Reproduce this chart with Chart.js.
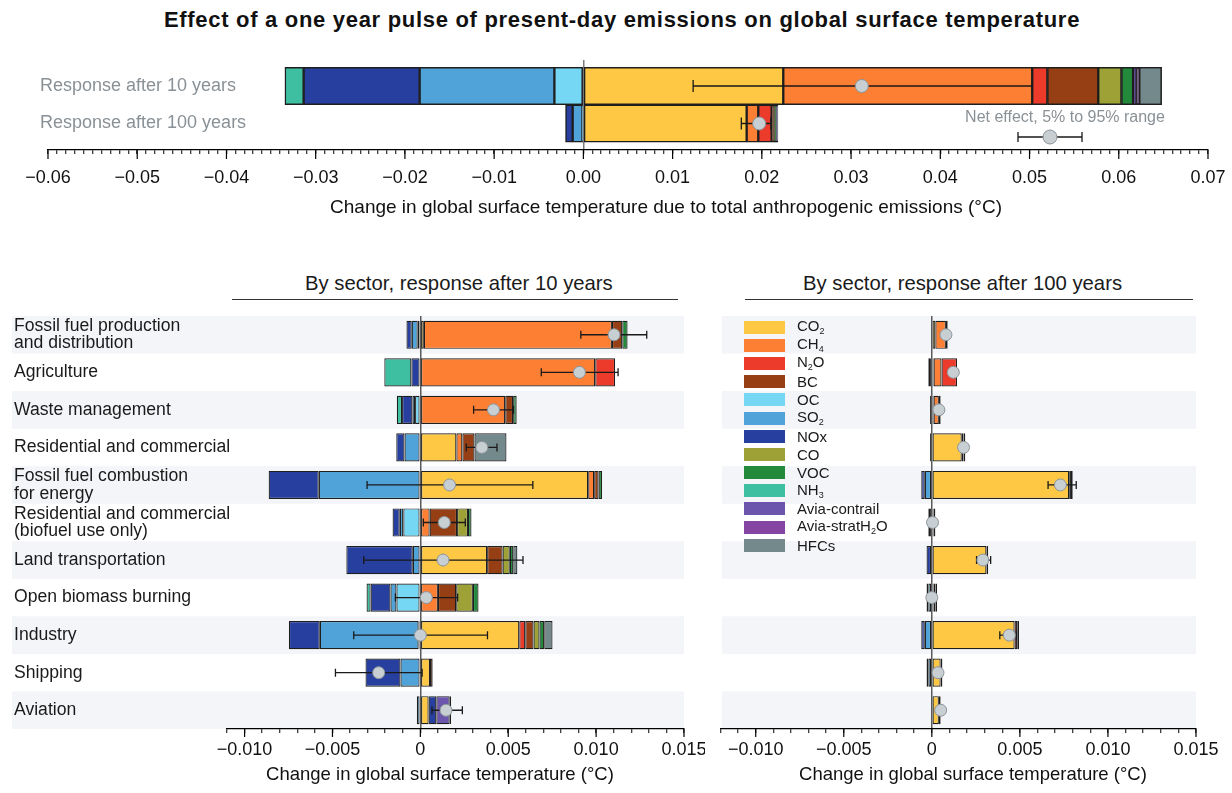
<!DOCTYPE html>
<html>
<head>
<meta charset="utf-8">
<script src="https://cdn.jsdelivr.net/npm/chart.js@4"></script>
<style>
  body { margin: 0; width: 1232px; height: 793px; position: relative; overflow: hidden; background: #fff;
         font-family: "Liberation Sans", Arial, sans-serif; color: #1a1a1a; }
  .abs { position: absolute; }
  #title { left: 6px; top: 7px; width: 1232px; text-align: center; font-weight: bold; font-size: 22px; letter-spacing: 0.7px;
           line-height: 26px; color: #111; }
  .hdr { font-size: 20.3px; line-height: 22px; border-bottom: 1.4px solid #333; padding-bottom: 5px; color: #1a1a1a; }
  .axt { text-align: center; color: #111; white-space: nowrap; }
  #legend { left: 744px; top: 318px; }
  .lg { height: 18.2px; display: flex; align-items: center; font-size: 15px; line-height: 1; color: #1a1a1a; }
  .sw { width: 41px; height: 13px; margin-right: 12px; display: inline-block; }
  .lg sub { font-size: 9px; vertical-align: -3px; }
</style>
</head>
<body>
<div id="title" class="abs">Effect of a one year pulse of present-day emissions on global surface temperature</div>
<div class="abs hdr" style="left:232px; top:272px; width:446px;"><div style="position:relative; left:73px;">By sector, response after 10 years</div></div>
<div class="abs hdr" style="left:745px; top:272px; width:448px;"><div style="position:relative; left:58px;">By sector, response after 100 years</div></div>

<canvas id="pulse" class="abs" width="1232" height="168" style="left:0; top:55px;"></canvas>
<canvas id="sec10" class="abs" width="705" height="488" style="left:0; top:305px;"></canvas>
<canvas id="sec100" class="abs" width="532" height="488" style="left:700px; top:305px;"></canvas>
<div id="legend" class="abs"></div>

<div class="abs axt" style="left:216px; width:900px; top:196px; font-size:19px; line-height:22px;">Change in global surface temperature due to total anthropogenic emissions (°C)</div>
<div class="abs axt" style="left:240px; width:400px; top:763px; font-size:18.5px; line-height:22px;">Change in global surface temperature (°C)</div>
<div class="abs axt" style="left:773px; width:400px; top:763px; font-size:18.5px; line-height:22px;">Change in global surface temperature (°C)</div>

<script>
// species, in legend and stacking order
var gases = ['CO₂', 'CH₄', 'N₂O', 'BC', 'OC', 'SO₂', 'NOx', 'CO', 'VOC', 'NH₃', 'Avia-contrail', 'Avia-stratH₂O', 'HFCs'];
var gasColors = ['#fec845', '#fc7f33', '#ec3a2b', '#963f14', '#76d7f5', '#4fa3d8', '#273f9e',
                 '#9ea136', '#238a3c', '#3ebfa1', '#6c55ad', '#8446a2', '#74898b'];

// top panel: total emissions, [after 10 years, after 100 years]
var pulseRows = ['Response after 10 years', 'Response after 100 years'];
var pulseValues = [
  [0.0224, 0.0183],    // CO2
  [0.0279, 0.0013],    // CH4
  [0.0017, 0.0015],    // N2O
  [0.0057, 0.0003],    // BC
  [-0.00325, -0.0001], // OC
  [-0.0151, -0.0011],  // SO2
  [-0.0130, -0.0008],  // NOx
  [0.0026, 0.0001],    // CO
  [0.0013, 0.0001],    // VOC
  [-0.0021, 0],        // NH3
  [0.0004, 0.0001],    // Avia-contrail
  [0.0003, 0],         // Avia-stratH2O
  [0.0025, 0.0001]     // HFCs
];
var pulseNet = [0.0312, 0.0197];
var pulseLow = [0.0123, 0.0177];
var pulseHigh = [0.0503, 0.0210];

// sector panels
var sectors = [
  ['Fossil fuel production', 'and distribution'],
  'Agriculture',
  'Waste management',
  'Residential and commercial',
  ['Fossil fuel combustion', 'for energy'],
  ['Residential and commercial', '(biofuel use only)'],
  'Land transportation',
  'Open biomass burning',
  'Industry',
  'Shipping',
  'Aviation'
];

var sector10 = [
  [0.0002, 0, 0, 0.00205, 0.00955, 0, 0.0038, 0, 0.00563, 0.00055, 0.00047],           // CO2
  [0.0107, 0.00995, 0.00483, 0.00034, 0.00034, 0.00053, 0, 0.001, 0, 0, 0],              // CH4
  [0, 0.00113, 0, 0, 0, 0, 0, 0, 0.00034, 0, 0],                                          // N2O
  [0.00059, 0, 0.00045, 0.00069, 0.00025, 0.00156, 0.00088, 0.00104, 0.00047, 0.00015, 0], // BC
  [-0.00015, 0, -0.0003, 0, 0, -0.00097, 0, -0.00136, -0.0001, 0, 0],                     // OC
  [-0.00034, 0, -0.00015, -0.0009, -0.00578, -0.0002, -0.00043, -0.00034, -0.00562, -0.00113, -0.0002], // SO2
  [-0.0003, -0.00051, -0.00059, -0.00047, -0.00285, -0.00041, -0.00378, -0.00113, -0.00176, -0.00199, 0.00044], // NOx
  [0, 0, 0, 0, 0, 0.00062, 0.00041, 0.00095, 0.00034, 0, 0],                              // CO
  [0.0003, 0, 0.0002, 0, 0.0002, 0.0002, 0.0002, 0.00032, 0.00027, 0, 0],                 // VOC
  [0, -0.00154, -0.0003, 0, 0, 0, 0, -0.00023, 0, 0, 0],                                  // NH3
  [0, 0, 0, 0, 0, 0, 0, 0, 0, 0, 0.00076],                                                // Avia-contrail
  [0, 0, 0, 0, 0, 0, 0, 0, 0, 0, 0.00008],                                                // Avia-stratH2O
  [0, 0, 0, 0.00182, 0, 0, 0.00023, 0, 0.00047, 0, 0]                                     // HFCs
];
var net10 = [0.01102, 0.00905, 0.00416, 0.0035, 0.00166, 0.00136, 0.00129, 0.00034, 0.0, -0.00237, 0.00146];
var low10 = [0.00913, 0.00688, 0.00303, 0.00261, -0.00303, 0.00017, -0.00322, -0.00142, -0.00379, -0.00483, 0.00066];
var high10 = [0.01288, 0.01125, 0.0053, 0.00436, 0.0064, 0.00256, 0.00584, 0.00212, 0.00382, 0.0001, 0.00239];

var sector100 = [
  [0.0002, 0.0001, 0.0001, 0.0017, 0.0078, 0.0001, 0.0031, 0.0001, 0.0047, 0.0005, 0.0004], // CO2
  [0.0006, 0.00045, 0.0003, 0, 0.0001, 0, 0, 0.0001, 0, 0, 0],                           // CH4
  [0, 0.00088, 0, 0, 0, 0, 0, 0, 0.00015, 0, 0],                                          // N2O
  [0.0001, 0, 0.0001, 0.0001, 0.0001, 0.0001, 0.0001, 0.0001, 0.0001, 0.0001, 0],         // BC
  [0, 0, 0, 0, 0, -0.0001, 0, -0.0002, 0, 0, 0],                                          // OC
  [0, 0, -0.0001, 0, -0.0004, -0.0001, 0, -0.0001, -0.0004, -0.0002, 0],                  // SO2
  [0, -0.0001, 0, -0.0001, -0.0002, 0, -0.0003, 0, -0.0002, -0.0001, 0.0001],             // NOx
  [0, 0, 0, 0, 0, 0, 0, 0, 0, 0, 0],                                                      // CO
  [0, 0, 0, 0, 0, 0, 0, 0, 0, 0, 0],                                                      // VOC
  [0, -0.0001, 0, 0, 0, 0, 0, 0, 0, 0, 0],                                                // NH3
  [0, 0, 0, 0, 0, 0, 0, 0, 0, 0, 0],                                                      // Avia-contrail
  [0, 0, 0, 0, 0, 0, 0, 0, 0, 0, 0],                                                      // Avia-stratH2O
  [0, 0, 0, 0.0001, 0, 0, 0, 0, 0, 0, 0]                                                  // HFCs
];
var net100 = [0.0008, 0.00122, 0.0004, 0.0018, 0.0073, 0.00004, 0.0029, 0, 0.0044, 0.00035, 0.0005];
var low100 = [0.0007, 0.00112, 0.0003, 0.0017, 0.0066, -0.00005, 0.00254, -0.0001, 0.00386, 0.00025, 0.0004];
var high100 = [0.0009, 0.00132, 0.0005, 0.0019, 0.0082, 0.00013, 0.00334, 0.0001, 0.0048, 0.00045, 0.0006];

Chart.defaults.font.family = '"Liberation Sans", Arial, sans-serif';
Chart.defaults.color = '#111';
Chart.defaults.animation = false;
Chart.defaults.plugins.legend.display = false;
Chart.defaults.plugins.tooltip.enabled = false;

function isMajor(v, step) {
  return Math.abs(v / step - Math.round(v / step)) < 1e-6;
}
function signed(v, digits) {
  return (v < 0 ? '\u2212' : '') + Math.abs(v).toFixed(digits);
}

// whiskers (5-95% range) and net-effect dots
var whiskerPlugin = {
  id: 'whiskers',
  afterDatasetsDraw: function(chart, args, opts) {
    var ctx = chart.ctx, x = chart.scales.x, y = chart.scales.y;
    ctx.save();
    for (var i = 0; i < opts.net.length; i++) {
      var py = y.getPixelForValue(i);
      var x0 = x.getPixelForValue(opts.low[i]);
      var x1 = x.getPixelForValue(opts.high[i]);
      ctx.strokeStyle = '#1a1a1a';
      ctx.lineWidth = 1.3;
      ctx.beginPath();
      ctx.moveTo(x0, py); ctx.lineTo(x1, py);
      ctx.moveTo(x0, py - opts.cap); ctx.lineTo(x0, py + opts.cap);
      ctx.moveTo(x1, py - opts.cap); ctx.lineTo(x1, py + opts.cap);
      ctx.stroke();
      ctx.beginPath();
      ctx.arc(x.getPixelForValue(opts.net[i]), py, opts.r, 0, Math.PI * 2);
      ctx.fillStyle = '#c8cfd3';
      ctx.fill();
      ctx.strokeStyle = '#8b949a';
      ctx.lineWidth = 1;
      ctx.stroke();
    }
    ctx.restore();
  }
};

// alternating row shading
var bandPlugin = {
  id: 'bands',
  beforeDraw: function(chart, args, opts) {
    var ctx = chart.ctx, area = chart.chartArea, y = chart.scales.y;
    var n = chart.data.labels.length;
    var h = (area.bottom - area.top) / n;
    var left = opts.left === undefined ? area.left : opts.left;
    ctx.save();
    ctx.fillStyle = '#f3f5f8';
    for (var i = 0; i < n; i += 2) {
      ctx.fillRect(left, y.getPixelForValue(i) - h / 2, area.right - left, h);
    }
    ctx.restore();
  }
};

// longer tick marks on the labelled values
var majorTickPlugin = {
  id: 'majorTicks',
  afterDraw: function(chart, args, opts) {
    var ctx = chart.ctx, x = chart.scales.x;
    ctx.save();
    ctx.strokeStyle = '#000';
    ctx.lineWidth = 1.2;
    x.ticks.forEach(function(t) {
      if (isMajor(t.value, opts.step)) {
        var px = x.getPixelForValue(t.value);
        ctx.beginPath();
        ctx.moveTo(px, x.top);
        ctx.lineTo(px, x.top + opts.len);
        ctx.stroke();
      }
    });
    ctx.restore();
  }
};

// "Net effect" key in the top panel
var netKeyPlugin = {
  id: 'netKey',
  afterDraw: function(chart) {
    var ctx = chart.ctx, area = chart.chartArea;
    var cx = area.right - 158, ty = 63, wy = 82;
    ctx.save();
    ctx.fillStyle = '#8a9196';
    ctx.font = '16px "Liberation Sans", Arial, sans-serif';
    ctx.textAlign = 'center';
    ctx.textBaseline = 'middle';
    ctx.fillText('Net effect, 5% to 95% range', cx + 15, ty);
    ctx.strokeStyle = '#1a1a1a';
    ctx.lineWidth = 1.3;
    ctx.beginPath();
    ctx.moveTo(cx - 32, wy); ctx.lineTo(cx + 32, wy);
    ctx.moveTo(cx - 32, wy - 5); ctx.lineTo(cx - 32, wy + 5);
    ctx.moveTo(cx + 32, wy - 5); ctx.lineTo(cx + 32, wy + 5);
    ctx.stroke();
    ctx.beginPath();
    ctx.arc(cx, wy, 7, 0, Math.PI * 2);
    ctx.fillStyle = '#c8cfd3';
    ctx.fill();
    ctx.strokeStyle = '#8b949a';
    ctx.lineWidth = 1;
    ctx.stroke();
    ctx.restore();
  }
};

function makeDatasets(values, barPct, borderWidth) {
  return gases.map(function(g, i) {
    return {
      label: g,
      data: values[i].map(function(v) { return v === 0 ? null : v; }),
      backgroundColor: gasColors[i],
      borderColor: '#1e1e1e',
      borderWidth: borderWidth,
      borderSkipped: false,
      barPercentage: barPct,
      categoryPercentage: 1
    };
  });
}

function zeroGrid(color) {
  return {
    color: function(c) { return c.tick && Math.abs(c.tick.value) < 1e-9 ? color : 'rgba(0,0,0,0)'; },
    lineWidth: 1.5,
    tickColor: '#000',
    tickWidth: 1,
    tickLength: 4,
    drawOnChartArea: true
  };
}

// top panel
new Chart(document.getElementById('pulse'), {
  type: 'bar',
  data: { labels: [0, 1], datasets: makeDatasets(pulseValues, 1, 1.5) },
  options: {
    responsive: false,
    indexAxis: 'y',
    layout: { padding: { top: 5, left: 0, right: 24, bottom: 0 } },
    scales: {
      x: {
        type: 'linear', stacked: true, min: -0.06, max: 0.07,
        afterFit: function(a) { a.height = 73; a.paddingLeft = 0; a.paddingRight = 0; },
        border: { color: '#000', width: 1.2 },
        grid: zeroGrid('#7c7c7c'),
        ticks: {
          stepSize: 0.001, autoSkip: false, maxRotation: 0, minRotation: 0, padding: 13,
          color: '#111', font: { size: 18 },
          callback: function(v) { return isMajor(v, 0.01) ? signed(v, 2) : ''; }
        }
      },
      y: {
        type: 'linear', stacked: true, reverse: true, offset: false, min: -0.6933, max: 1.7067,
        afterBuildTicks: function(a) { a.ticks = pulseRows.map(function(_, i) { return { value: i }; }); },
        afterFit: function(a) { a.width = 48; a.paddingTop = 0; a.paddingBottom = 0; },
        grid: { display: false, drawTicks: false, offset: false },
        border: { display: false },
        ticks: {
          mirror: true, padding: -8, color: '#8a9196', font: { size: 18 },
          callback: function(v) { return pulseRows[v]; }
        }
      }
    },
    plugins: {
      whiskers: { net: pulseNet, low: pulseLow, high: pulseHigh, cap: 6, r: 6.5 },
      majorTicks: { step: 0.01, len: 9 }
    }
  },
  plugins: [whiskerPlugin, majorTickPlugin, netKeyPlugin]
});

function sectorOptions(xmin, pad, showLabels, net, low, high, bandLeft) {
  return {
    responsive: false,
    indexAxis: 'y',
    layout: { padding: pad },
    scales: {
      x: {
        type: 'linear', stacked: true, min: xmin, max: 0.015,
        afterFit: function(a) { a.height = 64; a.paddingLeft = 0; a.paddingRight = 0; },
        border: { color: '#000', width: 1.2 },
        grid: zeroGrid('#5a5a5a'),
        ticks: {
          stepSize: 0.001, autoSkip: false, maxRotation: 0, minRotation: 0, padding: 6,
          color: '#111', font: { size: 18 },
          callback: function(v) {
            if (!isMajor(v, 0.005)) return '';
            return Math.abs(v) < 1e-9 ? '0' : signed(v, 3);
          }
        }
      },
      y: {
        type: 'category', stacked: true, display: showLabels,
        afterFit: function(a) { a.width = showLabels ? 213 : 0; a.paddingTop = 0; a.paddingBottom = 0; },
        grid: { display: false, drawTicks: false },
        border: { display: false },
        // mirrored so the long labels are not clipped at the plot edge
        ticks: { autoSkip: false, mirror: true, padding: -213, color: '#1a1a1a', font: { size: 17.6, lineHeight: 1.0 } }
      }
    },
    plugins: {
      whiskers: { net: net, low: low, high: high, cap: 4, r: 6 },
      majorTicks: { step: 0.005, len: 8 },
      bands: { left: bandLeft }
    }
  };
}

new Chart(document.getElementById('sec10'), {
  type: 'bar',
  data: { labels: sectors, datasets: makeDatasets(sector10, 0.75, 1.2) },
  options: sectorOptions(-0.011, { top: 11, left: 14, right: 21, bottom: 0 }, true, net10, low10, high10, 12),
  plugins: [bandPlugin, whiskerPlugin, majorTickPlugin]
});

new Chart(document.getElementById('sec100'), {
  type: 'bar',
  data: { labels: sectors, datasets: makeDatasets(sector100, 0.75, 1.2) },
  options: sectorOptions(-0.012, { top: 11, left: 20.5, right: 36, bottom: 0 }, false, net100, low100, high100, 22),
  plugins: [bandPlugin, whiskerPlugin, majorTickPlugin]
});

// legend, inside the 100-year panel
var legendEl = document.getElementById('legend');
gases.forEach(function(g, i) {
  var row = document.createElement('div');
  row.className = 'lg';
  var txt = g.replace(/[\u2080-\u2089]/g, function(c) { return '<sub>' + (c.charCodeAt(0) - 0x2080) + '</sub>'; });
  row.innerHTML = '<span class="sw" style="background:' + gasColors[i] + '"></span><span>' + txt + '</span>';
  legendEl.appendChild(row);
});
</script>
</body>
</html>
